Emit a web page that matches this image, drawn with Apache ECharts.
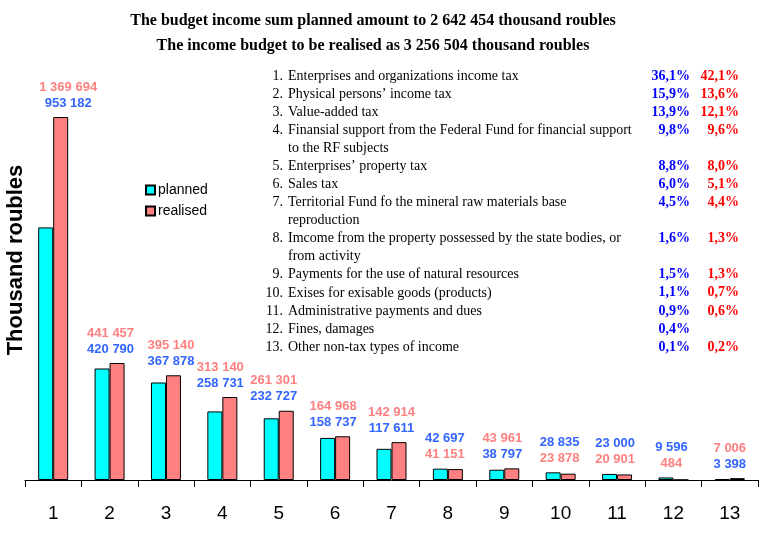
<!DOCTYPE html>
<html>
<head>
<meta charset="utf-8">
<script src="https://cdn.jsdelivr.net/npm/echarts@6/dist/echarts.min.js"></script>
<style>html,body{margin:0;padding:0;background:#fff}#c{width:770px;height:534px}</style>
</head>
<body>
<div id="c"></div>
<script>
var categories = ['1','2','3','4','5','6','7','8','9','10','11','12','13'];
var planned  = [953182, 420790, 367878, 258731, 232727, 158737, 117611, 42697, 38797, 28835, 23000, 9596, 3398];
var realised = [1369694, 441457, 395140, 313140, 261301, 164968, 142914, 41151, 43961, 23878, 20901, 484, 7006];
var seriesNames = ['planned', 'realised'];
var incomeTypes = [
  'Enterprises and organizations income tax',
  'Physical persons\u2019 income tax',
  'Value-added tax',
  'Finansial support from the Federal Fund for financial support\nto the RF subjects',
  'Enterprises\u2019 property tax',
  'Sales tax',
  'Territorial Fund fo the mineral raw materials base\nreproduction',
  'Imcome from the property possessed by the state bodies, or\nfrom activity',
  'Payments for the use of natural resources',
  'Exises for exisable goods (products)',
  'Administrative payments and dues',
  'Fines, damages',
  'Other non-tax types of income'
];
var plannedShare  = [36.1, 15.9, 13.9, 9.8, 8.8, 6.0, 4.5, 1.6, 1.5, 1.1, 0.9, 0.4, 0.1];
var realisedShare = [42.1, 13.6, 12.1, 9.6, 8.0, 5.1, 4.4, 1.3, 1.3, 0.7, 0.6, null, 0.2];
var titleLines = [
  'The budget income sum planned amount to 2 642 454 thousand roubles',
  'The income budget to be realised as 3 256 504 thousand roubles'
];
var yAxisTitle = 'Thousand roubles';

// layout (label horizontal nudges, px)
var labelShift = [15, 1, 5, -2, -5, -2, 0, -3, -2, -1, -2, -2, 0];

var C_PLAN = '#00ffff', C_REAL = '#ff8080';
var C_PLAN_LBL = '#3366ff', C_REAL_LBL = '#ff8080';

function fmtNum(v) { return String(v).replace(/\B(?=(\d{3})+(?!\d))/g, ' '); }
function fmtPct(v) { return v.toFixed(1).replace('.', ',') + '%'; }

var chart = echarts.init(document.getElementById('c'), null, {renderer: 'canvas'});

var listEls = [];
var lineStep = 18.07, y0 = 76, line = 0;
incomeTypes.forEach(function (name, i) {
  var y = y0 + line * lineStep;
  var parts = name.split('\n');
  listEls.push({type: 'text', style: {text: (i + 1) + '.', x: 283, y: y, align: 'right', verticalAlign: 'middle', font: '14px "Liberation Serif"', fill: '#000'}});
  parts.forEach(function (p, k) {
    listEls.push({type: 'text', style: {text: p, x: 288, y: y + k * lineStep, align: 'left', verticalAlign: 'middle', font: '14px "Liberation Serif"', fill: '#000'}});
  });
  if (plannedShare[i] != null) listEls.push({type: 'text', style: {text: fmtPct(plannedShare[i]), x: 690, y: y, align: 'right', verticalAlign: 'middle', font: 'bold 14px "Liberation Serif"', fill: '#0000ff'}});
  if (realisedShare[i] != null) listEls.push({type: 'text', style: {text: fmtPct(realisedShare[i]), x: 739, y: y, align: 'right', verticalAlign: 'middle', font: 'bold 14px "Liberation Serif"', fill: '#ff0000'}});
  line += parts.length;
});
listEls.push({type: 'text', rotation: Math.PI / 2, x: 16, y: 260, style: {text: yAxisTitle, x: 0, y: 0, align: 'center', verticalAlign: 'middle', font: 'bold 22px "Liberation Sans"', fill: '#000'}});

var labelData = categories.map(function (c, i) { return [i, planned[i], realised[i]]; });

chart.setOption({
  animation: false,
  backgroundColor: '#fff',
  title: {
    text: titleLines.join('\n'),
    left: 368, top: 3, textAlign: 'center',
    textStyle: {fontFamily: 'Liberation Serif', fontWeight: 'bold', fontSize: 16, lineHeight: 25, color: '#000'}
  },
  legend: {
    data: seriesNames,
    orient: 'vertical', left: 145, top: 183, padding: 0,
    itemWidth: 9, itemHeight: 9, itemGap: 7,
    icon: 'rect',
    textStyle: {fontFamily: 'Liberation Sans', fontSize: 14, color: '#000', padding: [0, 0, 0, -2]}
  },
  grid: {left: 25, width: 733, top: 56, bottom: 54},
  xAxis: {
    type: 'category', data: categories,
    axisLine: {lineStyle: {color: '#000', width: 1}},
    axisTick: {show: true, length: 7, lineStyle: {color: '#000'}},
    axisLabel: {color: '#000', fontFamily: 'Liberation Sans', fontSize: 19, margin: 24}
  },
  yAxis: {type: 'value', min: 0, max: 1600000, show: false, splitLine: {show: false}},
  graphic: listEls,
  series: [
    {name: seriesNames[0], type: 'bar', data: planned, barWidth: 15, barGap: '0%',
     itemStyle: {color: C_PLAN, borderColor: '#000', borderWidth: 1}},
    {name: seriesNames[1], type: 'bar', data: realised, barWidth: 15, barGap: '0%',
     itemStyle: {color: C_REAL, borderColor: '#000', borderWidth: 1}},
    {type: 'custom', clip: false, z: 10, data: labelData, encode: {x: 0, y: 1},
     renderItem: function (params, api) {
       var i = api.value(0), p = api.value(1), r = api.value(2);
       var top = api.coord([i, Math.max(p, r)]);
       var x = top[0] + labelShift[i];
       var planTop = p > r;
       var items = [
         {t: fmtNum(planTop ? p : r), c: planTop ? C_PLAN_LBL : C_REAL_LBL, y: top[1] - 30},
         {t: fmtNum(planTop ? r : p), c: planTop ? C_REAL_LBL : C_PLAN_LBL, y: top[1] - 14}
       ];
       return {type: 'group', children: items.map(function (it) {
         return {type: 'text', style: {text: it.t, x: x, y: it.y, align: 'center', verticalAlign: 'middle', font: 'bold 13px "Liberation Sans"', fill: it.c}};
       })};
     }}
  ]
});
</script>
</body>
</html>
